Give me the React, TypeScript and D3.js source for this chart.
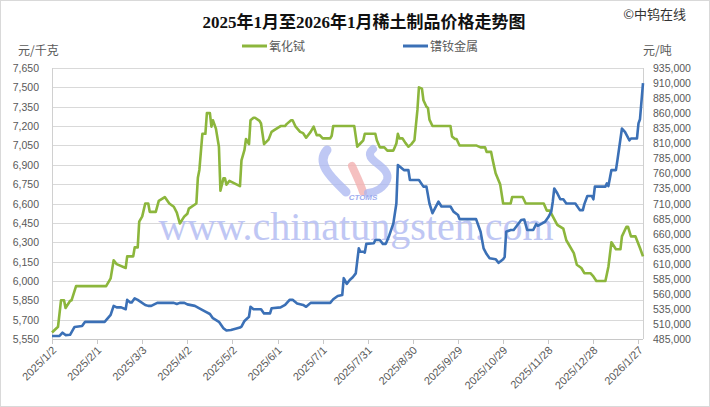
import React, { useEffect, useRef } from 'react';
import * as d3 from 'd3';

const chartTitle = '2025年1月至2026年1月稀土制品价格走势图';
const seriesNames = ['氧化铽', '镨钕金属'];
const seriesColors = ['#8cb63c', '#3b70b6'];

const xTickDates = [
  '2025-01-02', '2025-02-01', '2025-03-03', '2025-04-02', '2025-05-02', '2025-06-01', '2025-07-01',
  '2025-07-31', '2025-08-30', '2025-09-29', '2025-10-29', '2025-11-28', '2025-12-28', '2026-01-27',
];
const leftTicks = [5550, 5700, 5850, 6000, 6150, 6300, 6450, 6600, 6750, 6900, 7050, 7200, 7350, 7500, 7650];
const rightTicks = [
  485000, 510000, 535000, 560000, 585000, 610000, 635000, 660000, 685000, 710000,
  735000, 760000, 785000, 810000, 835000, 860000, 885000, 910000, 935000,
];

// 氧化铽 (元/千克)
const terbiumOxide: [string, number][] = [
  ['2025-01-02', 5600], ['2025-01-06', 5645], ['2025-01-08', 5850], ['2025-01-10', 5850], ['2025-01-11', 5790],
  ['2025-01-14', 5845], ['2025-01-15', 5850], ['2025-01-18', 5960], ['2025-02-07', 5960], ['2025-02-10', 6020],
  ['2025-02-12', 6160], ['2025-02-14', 6130], ['2025-02-20', 6100], ['2025-02-21', 6190], ['2025-02-25', 6190],
  ['2025-02-26', 6260], ['2025-02-28', 6260], ['2025-03-01', 6460], ['2025-03-03', 6500], ['2025-03-05', 6600],
  ['2025-03-07', 6600], ['2025-03-08', 6535], ['2025-03-12', 6535], ['2025-03-14', 6620], ['2025-03-18', 6650],
  ['2025-03-21', 6600], ['2025-03-24', 6575], ['2025-03-26', 6530], ['2025-03-28', 6445], ['2025-03-31', 6500],
  ['2025-04-02', 6520], ['2025-04-03', 6560], ['2025-04-08', 6600], ['2025-04-09', 6800], ['2025-04-10', 6860],
  ['2025-04-12', 7140], ['2025-04-14', 7140], ['2025-04-15', 7300], ['2025-04-17', 7300], ['2025-04-18', 7195],
  ['2025-04-19', 7245], ['2025-04-21', 7180], ['2025-04-23', 7040], ['2025-04-24', 6700], ['2025-04-26', 6795],
  ['2025-04-27', 6795], ['2025-04-28', 6745], ['2025-04-30', 6775], ['2025-05-07', 6735], ['2025-05-08', 6935],
  ['2025-05-10', 7015], ['2025-05-11', 7100], ['2025-05-13', 7060], ['2025-05-14', 7245], ['2025-05-16', 7265],
  ['2025-05-17', 7265], ['2025-05-20', 7240], ['2025-05-21', 7220], ['2025-05-23', 7060], ['2025-05-26', 7095],
  ['2025-05-28', 7155], ['2025-05-30', 7170], ['2025-06-03', 7200], ['2025-06-06', 7200], ['2025-06-07', 7215],
  ['2025-06-10', 7245], ['2025-06-11', 7245], ['2025-06-13', 7195], ['2025-06-16', 7155], ['2025-06-18', 7145],
  ['2025-06-20', 7110], ['2025-06-23', 7155], ['2025-06-25', 7195], ['2025-06-27', 7130], ['2025-06-29', 7130],
  ['2025-07-01', 7105], ['2025-07-06', 7105], ['2025-07-07', 7125], ['2025-07-08', 7200], ['2025-07-22', 7200],
  ['2025-07-24', 7040], ['2025-07-26', 7065], ['2025-07-28', 7090], ['2025-07-29', 7140], ['2025-08-05', 7140],
  ['2025-08-06', 7090], ['2025-08-08', 7035], ['2025-08-11', 7035], ['2025-08-13', 7010], ['2025-08-17', 7010],
  ['2025-08-19', 7065], ['2025-08-20', 7140], ['2025-08-21', 7105], ['2025-08-23', 7105], ['2025-08-25', 7070],
  ['2025-08-27', 7040], ['2025-08-29', 7060], ['2025-08-31', 7090], ['2025-09-02', 7325], ['2025-09-03', 7500],
  ['2025-09-05', 7490], ['2025-09-06', 7400], ['2025-09-08', 7350], ['2025-09-09', 7340], ['2025-09-10', 7250],
  ['2025-09-12', 7200], ['2025-09-24', 7200], ['2025-09-25', 7120], ['2025-09-27', 7100], ['2025-09-28', 7100],
  ['2025-09-30', 7050], ['2025-10-11', 7050], ['2025-10-14', 7035], ['2025-10-17', 7035], ['2025-10-18', 7000],
  ['2025-10-21', 7000], ['2025-10-22', 6940], ['2025-10-24', 6835], ['2025-10-27', 6750], ['2025-10-29', 6600],
  ['2025-11-03', 6600], ['2025-11-04', 6650], ['2025-11-11', 6650], ['2025-11-13', 6600], ['2025-11-25', 6600],
  ['2025-11-27', 6545], ['2025-11-29', 6545], ['2025-12-01', 6500], ['2025-12-04', 6435], ['2025-12-08', 6405],
  ['2025-12-10', 6315], ['2025-12-15', 6215], ['2025-12-17', 6125], ['2025-12-20', 6100], ['2025-12-22', 6060],
  ['2025-12-26', 6060], ['2025-12-28', 6035], ['2025-12-30', 6000], ['2026-01-05', 6000], ['2026-01-07', 6110],
  ['2026-01-09', 6300], ['2026-01-12', 6245], ['2026-01-15', 6245], ['2026-01-16', 6345], ['2026-01-19', 6420],
  ['2026-01-20', 6420], ['2026-01-22', 6345], ['2026-01-25', 6345], ['2026-01-28', 6255], ['2026-01-30', 6190],
];

// 镨钕金属 (元/吨)
const prNdMetal: [string, number][] = [
  ['2025-01-02', 490000], ['2025-01-07', 490000], ['2025-01-09', 495500], ['2025-01-11', 491500], ['2025-01-14', 492000],
  ['2025-01-17', 505000], ['2025-01-22', 506500], ['2025-01-24', 513500], ['2025-02-06', 513500], ['2025-02-10', 525000],
  ['2025-02-12', 540000], ['2025-02-14', 537500], ['2025-02-17', 537500], ['2025-02-20', 534500], ['2025-02-21', 550000],
  ['2025-02-23', 545500], ['2025-02-24', 545500], ['2025-02-26', 552500], ['2025-02-28', 550000], ['2025-03-05', 541500],
  ['2025-03-07', 540000], ['2025-03-09', 540000], ['2025-03-13', 545000], ['2025-03-24', 545000], ['2025-03-26', 543000],
  ['2025-03-28', 545000], ['2025-03-31', 545000], ['2025-04-02', 542500], ['2025-04-07', 540000], ['2025-04-10', 536000],
  ['2025-04-14', 530500], ['2025-04-17', 526500], ['2025-04-19', 519500], ['2025-04-23', 513500], ['2025-04-26', 503000],
  ['2025-04-28', 499000], ['2025-05-01', 500000], ['2025-05-07', 504000], ['2025-05-08', 505500], ['2025-05-10', 515000],
  ['2025-05-13', 522000], ['2025-05-14', 538500], ['2025-05-16', 534500], ['2025-05-21', 534500], ['2025-05-23', 527500],
  ['2025-05-27', 527500], ['2025-05-28', 536000], ['2025-06-03', 537500], ['2025-06-06', 541500], ['2025-06-09', 550000],
  ['2025-06-11', 550000], ['2025-06-14', 544000], ['2025-06-18', 541500], ['2025-06-20', 538500], ['2025-06-23', 545000],
  ['2025-07-06', 545000], ['2025-07-08', 551000], ['2025-07-11', 556500], ['2025-07-14', 558000], ['2025-07-15', 586000],
  ['2025-07-17', 576500], ['2025-07-19', 583000], ['2025-07-21', 587500], ['2025-07-23', 594000], ['2025-07-25', 635500],
  ['2025-07-26', 630000], ['2025-07-28', 630000], ['2025-07-29', 628500], ['2025-07-30', 643000], ['2025-08-04', 644000],
  ['2025-08-05', 649500], ['2025-08-08', 649500], ['2025-08-10', 643000], ['2025-08-12', 643000], ['2025-08-14', 655000],
  ['2025-08-17', 677000], ['2025-08-19', 710000], ['2025-08-20', 774000], ['2025-08-24', 765500], ['2025-08-27', 765500],
  ['2025-08-28', 749000], ['2025-09-03', 749000], ['2025-09-06', 738000], ['2025-09-08', 738000], ['2025-09-10', 710000],
  ['2025-09-12', 694000], ['2025-09-16', 713000], ['2025-09-18', 705000], ['2025-09-24', 705000], ['2025-09-26', 696500],
  ['2025-09-29', 691000], ['2025-09-30', 684000], ['2025-10-11', 684000], ['2025-10-14', 663000], ['2025-10-16', 635500],
  ['2025-10-18', 626000], ['2025-10-20', 619000], ['2025-10-24', 617500], ['2025-10-26', 611500], ['2025-10-29', 617500],
  ['2025-10-30', 621000], ['2025-10-31', 663000], ['2025-11-03', 666000], ['2025-11-05', 666000], ['2025-11-07', 672500],
  ['2025-11-10', 682500], ['2025-11-12', 683500], ['2025-11-14', 666000], ['2025-11-18', 666000], ['2025-11-20', 676000],
  ['2025-11-21', 673000], ['2025-11-24', 677000], ['2025-11-26', 680000], ['2025-11-28', 687000], ['2025-11-30', 696500],
  ['2025-12-01', 713000], ['2025-12-02', 735000], ['2025-12-04', 727000], ['2025-12-06', 717000], ['2025-12-08', 717000],
  ['2025-12-10', 710000], ['2025-12-16', 710000], ['2025-12-19', 699000], ['2025-12-21', 699000], ['2025-12-22', 709000],
  ['2025-12-24', 722500], ['2025-12-27', 722500], ['2025-12-28', 717000], ['2025-12-29', 738000], ['2026-01-05', 738000],
  ['2026-01-06', 743500], ['2026-01-07', 739000], ['2026-01-09', 765500], ['2026-01-12', 765500], ['2026-01-13', 782000],
  ['2026-01-16', 834500], ['2026-01-18', 829000], ['2026-01-21', 815000], ['2026-01-22', 818000], ['2026-01-26', 818000],
  ['2026-01-27', 843000], ['2026-01-28', 850000], ['2026-01-30', 910000],
];

const WIDTH = 710;
const HEIGHT = 407;
const LABEL_FONT = "'Liberation Sans', Arial, sans-serif";
const CJK_FONT = "'Noto Sans CJK SC', sans-serif";

const App: React.FC = () => {
  const svgRef = useRef<SVGSVGElement>(null);

  useEffect(() => {
    if (!svgRef.current) return;
    const svg = d3.select(svgRef.current);
    svg.selectAll('*').remove();

    const parse = d3.timeParse('%Y-%m-%d');
    const margin = { left: 52, right: 643, top: 68, bottom: 339 };

    const x = d3.scaleTime()
      .domain([parse('2025-01-02')!, parse('2026-01-30')!])
      .range([margin.left, margin.right]);
    const yLeft = d3.scaleLinear().domain([5550, 7650]).range([margin.bottom, margin.top]);
    const yRight = d3.scaleLinear().domain([485000, 935000]).range([margin.bottom, margin.top]);
    const fmt = d3.format(',');
    const dateFmt = d3.timeFormat('%Y/%-m/%-d');

    // background + outer border
    svg.append('rect')
      .attr('x', 0.5).attr('y', 0.5)
      .attr('width', WIDTH - 1).attr('height', HEIGHT - 1)
      .attr('fill', '#fff').attr('stroke', '#d9d9d9');

    // title
    svg.append('text')
      .attr('x', 364).attr('y', 28)
      .attr('text-anchor', 'middle')
      .style('font-family', "'Liberation Serif', 'Noto Sans CJK SC', serif")
      .style('font-weight', 'bold')
      .style('font-size', '17px')
      .attr('fill', '#111')
      .text(chartTitle);

    svg.append('text')
      .attr('x', 686).attr('y', 19)
      .attr('text-anchor', 'end')
      .style('font-family', CJK_FONT)
      .style('font-size', '13px')
      .attr('fill', '#333')
      .text('©中钨在线');

    // unit labels
    svg.append('text')
      .attr('x', 18).attr('y', 55)
      .style('font-family', CJK_FONT).style('font-size', '12px')
      .attr('fill', '#595959').text('元/千克');
    svg.append('text')
      .attr('x', 643).attr('y', 55)
      .style('font-family', CJK_FONT).style('font-size', '12px')
      .attr('fill', '#595959').text('元/吨');

    // legend
    const legendX = [242, 403];
    seriesNames.forEach((name, i) => {
      const g = svg.append('g').attr('transform', `translate(${legendX[i]}, 46)`);
      g.append('line').attr('x1', 0).attr('x2', 25).attr('y1', 0).attr('y2', 0)
        .attr('stroke', seriesColors[i]).attr('stroke-width', 3);
      g.append('text').attr('x', 27).attr('y', 4.5)
        .style('font-family', CJK_FONT).style('font-size', '12px')
        .attr('fill', '#595959').text(name);
    });

    // gridlines
    svg.append('g').selectAll('line')
      .data(leftTicks)
      .join('line')
      .attr('x1', margin.left).attr('x2', margin.right)
      .attr('y1', d => Math.round(yLeft(d)) + 0.5)
      .attr('y2', d => Math.round(yLeft(d)) + 0.5)
      .attr('stroke', '#d9d9d9');

    // watermark (logo + site name)
    const wm = svg.append('g');
    wm.append('path')
      .attr('d', 'M327,150 C315,164 333,179 346,192')
      .attr('fill', 'none').attr('stroke', '#a9b5f0').attr('stroke-width', 9)
      .attr('stroke-linecap', 'round').attr('opacity', 0.75);
    wm.append('path')
      .attr('d', 'M352,166 C357,177 361,185 363,192')
      .attr('fill', 'none').attr('stroke', '#f2b0b0').attr('stroke-width', 8)
      .attr('stroke-linecap', 'round').attr('opacity', 0.8);
    wm.append('path')
      .attr('d', 'M373,149 C360,160 392,166 387,180 C383,189 375,192 368,193')
      .attr('fill', 'none').attr('stroke', '#a9b5f0').attr('stroke-width', 8)
      .attr('stroke-linecap', 'round').attr('opacity', 0.75);
    wm.append('text')
      .attr('x', 363).attr('y', 199.5)
      .attr('text-anchor', 'middle')
      .style('font-family', LABEL_FONT).style('font-size', '8px')
      .style('font-weight', 'bold').style('font-style', 'italic')
      .attr('fill', '#9eacef').text('CTOMS');
    wm.append('text')
      .attr('x', 356).attr('y', 240)
      .attr('text-anchor', 'middle')
      .style('font-family', "'Liberation Serif', serif")
      .style('font-size', '40px')
      .attr('fill', '#b9c1f3')
      .attr('opacity', 0.9)
      .text('www.chinatungsten.com');

    // axis lines
    svg.append('line')
      .attr('x1', margin.left + 0.5).attr('x2', margin.left + 0.5)
      .attr('y1', margin.top).attr('y2', margin.bottom)
      .attr('stroke', '#d0d0d0');
    svg.append('line')
      .attr('x1', margin.right + 0.5).attr('x2', margin.right + 0.5)
      .attr('y1', margin.top).attr('y2', margin.bottom)
      .attr('stroke', '#d0d0d0');
    svg.append('line')
      .attr('x1', margin.left).attr('x2', margin.right)
      .attr('y1', margin.bottom + 0.5).attr('y2', margin.bottom + 0.5)
      .attr('stroke', '#c8c8c8');

    // left labels
    svg.append('g').selectAll('text')
      .data(leftTicks)
      .join('text')
      .attr('x', 39).attr('y', d => yLeft(d) + 4)
      .attr('text-anchor', 'end')
      .style('font-family', LABEL_FONT).style('font-size', '10.5px')
      .attr('fill', '#595959')
      .text(d => fmt(d));

    // right labels
    svg.append('g').selectAll('text')
      .data(rightTicks)
      .join('text')
      .attr('x', 653).attr('y', d => yRight(d) + 4)
      .style('font-family', LABEL_FONT).style('font-size', '10.5px')
      .attr('fill', '#595959')
      .text(d => fmt(d));

    // x ticks + rotated labels
    const xTicks = xTickDates.map(d => parse(d)!);
    svg.append('g').selectAll('line')
      .data(xTicks)
      .join('line')
      .attr('x1', d => Math.round(x(d)) + 0.5).attr('x2', d => Math.round(x(d)) + 0.5)
      .attr('y1', margin.bottom).attr('y2', margin.bottom + 5)
      .attr('stroke', '#c8c8c8');
    svg.append('g').selectAll('text')
      .data(xTicks)
      .join('text')
      .attr('transform', d => `translate(${x(d) + 5}, ${margin.bottom + 12}) rotate(-45)`)
      .attr('text-anchor', 'end')
      .style('font-family', LABEL_FONT).style('font-size', '11px')
      .attr('fill', '#595959')
      .text(d => dateFmt(d));

    // series lines
    const terbiumLine = d3.line<[string, number]>()
      .x(d => x(parse(d[0])!))
      .y(d => yLeft(d[1]));
    const prNdLine = d3.line<[string, number]>()
      .x(d => x(parse(d[0])!))
      .y(d => yRight(d[1]));

    svg.append('path')
      .datum(terbiumOxide)
      .attr('d', terbiumLine)
      .attr('fill', 'none')
      .attr('stroke', seriesColors[0])
      .attr('stroke-width', 2.6)
      .attr('stroke-linejoin', 'round');

    svg.append('path')
      .datum(prNdMetal)
      .attr('d', prNdLine)
      .attr('fill', 'none')
      .attr('stroke', seriesColors[1])
      .attr('stroke-width', 2.6)
      .attr('stroke-linejoin', 'round');
  }, []);

  return (
    <div style={{ position: 'absolute', left: 0, top: 0 }}>
      <svg ref={svgRef} width={WIDTH} height={HEIGHT} style={{ display: 'block' }}></svg>
    </div>
  );
};

export default App;
